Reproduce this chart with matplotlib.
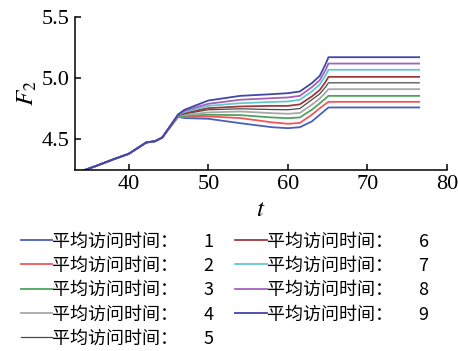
import matplotlib
matplotlib.use("Agg")
import matplotlib.pyplot as plt

# ---- data ----
trunk_t = [34.3, 36, 38, 40, 42.2, 43.3, 44.2]
trunk_y = [4.24, 4.28, 4.33, 4.377, 4.47, 4.48, 4.51]

branch_t = [46.2, 47, 50, 54, 58, 60, 61.5, 63, 64.0, 64.7, 65.1, 76.5]
s1 = [4.680, 4.670, 4.664, 4.628, 4.595, 4.587, 4.595, 4.642, 4.697, 4.735, 4.757, 4.757]
s2 = [4.682, 4.678, 4.683, 4.670, 4.635, 4.623, 4.630, 4.697, 4.750, 4.785, 4.803, 4.803]
s3 = [4.685, 4.688, 4.697, 4.694, 4.675, 4.669, 4.675, 4.738, 4.790, 4.830, 4.852, 4.852]
s4 = [4.688, 4.695, 4.716, 4.724, 4.710, 4.705, 4.712, 4.779, 4.830, 4.878, 4.907, 4.907]
s5 = [4.690, 4.705, 4.738, 4.746, 4.740, 4.738, 4.748, 4.820, 4.868, 4.922, 4.959, 4.959]
s6 = [4.692, 4.712, 4.751, 4.765, 4.770, 4.770, 4.782, 4.847, 4.900, 4.963, 5.008, 5.008]
s7 = [4.695, 4.720, 4.770, 4.792, 4.802, 4.806, 4.820, 4.888, 4.945, 5.015, 5.066, 5.066]
s8 = [4.698, 4.730, 4.787, 4.820, 4.833, 4.839, 4.852, 4.923, 4.980, 5.060, 5.117, 5.117]
s9 = [4.700, 4.738, 4.814, 4.852, 4.866, 4.874, 4.888, 4.956, 5.016, 5.107, 5.169, 5.169]
series = [s1, s2, s3, s4, s5, s6, s7, s8, s9]
labels = ["平均访问时间：\u3000  %d" % i for i in range(1, 10)]
colors = ["#4a5fb8", "#f0575a", "#4ea35e", "#a8a8a8", "#4a4a4a",
          "#9a3a3a", "#62c8d2", "#a462bc", "#3f47a8"]
widths = [1.3, 1.3, 1.3, 1.3, 0.9, 1.3, 1.3, 1.3, 1.3]

xticks = [40, 50, 60, 70, 80]
yticks = [4.5, 5.0, 5.5]

plt.rcParams['mathtext.fontset'] = 'stix'
fig = plt.figure(figsize=(4.58, 3.51), dpi=100)
ax = fig.add_axes([0.164, 0.516, 0.812, 0.436])

for s, lab, c, w in zip(series, labels, colors, widths):
    ax.plot(trunk_t + branch_t, trunk_y + s, color=c, lw=w, label=lab)

ax.set_xlim(33.25, 80)
ax.set_ylim(4.245, 5.5)
ax.set_xticks(xticks)
ax.set_yticks(yticks)
ax.set_yticklabels(["%.1f" % v for v in yticks])
ax.spines['top'].set_visible(False)
ax.spines['right'].set_visible(False)
for sp in ['left', 'bottom']:
    ax.spines[sp].set_linewidth(1.1)
ax.tick_params(direction='in', length=4, width=1.1, labelsize=16, pad=4)
for lab in ax.get_xticklabels() + ax.get_yticklabels():
    lab.set_fontfamily('Liberation Serif')

ax.set_xlabel(r'$t$', fontsize=18, labelpad=2)
ax.set_ylabel(r'$F_2$', fontsize=18, labelpad=2)

leg = fig.legend(loc='upper left', bbox_to_anchor=(0.010, 0.384), ncol=2,
                 frameon=False, handlelength=1.75, handletextpad=0.0,
                 columnspacing=1.15, labelspacing=0.35,
                 prop={'family': ['Noto Sans CJK SC', 'DejaVu Sans'], 'size': 13})

fig.savefig("out.png", dpi=100)
